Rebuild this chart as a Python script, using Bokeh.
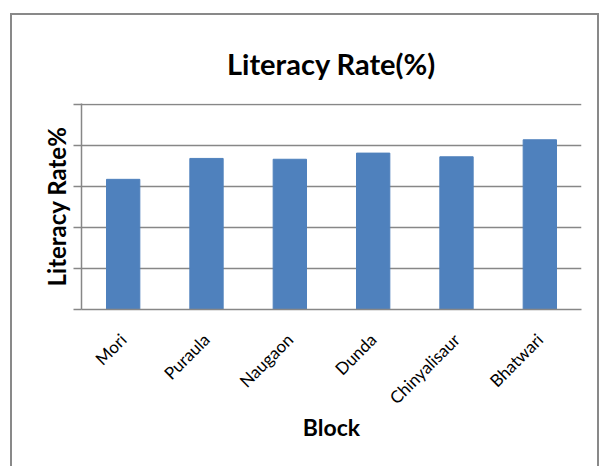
from math import pi
from bokeh.plotting import figure
from bokeh.models import FixedTicker
from bokeh.embed import file_html
from bokeh.resources import INLINE

blocks = ["Mori", "Puraula", "Naugaon", "Dunda", "Chinyalisaur", "Bhatwari"]
literacy = [63.5, 73.7, 73.3, 76.3, 74.5, 82.8]
y_ticks = [0, 20, 40, 60, 80, 100]
chart_title = "Literacy Rate(%)"

FONT = "Lato"
GRID = "#878787"

p = figure(width=589, height=456, x_range=blocks, y_range=(0, 100.5),
           output_backend="svg", toolbar_location=None,
           min_border_left=69, min_border_right=20,
           min_border_top=88, min_border_bottom=162,
           title=chart_title)
p.margin = (13, 0, 0, 10)
p.styles = {"border": "2px solid #898989"}

p.vbar(x=blocks, top=literacy, width=0.4, color="#4F81BD", line_color="#4F81BD")

p.title.align = "center"
p.title.text_font = FONT
p.title.text_font_size = "29px"
p.title.text_font_style = "bold"
p.title.text_color = "#000000"
p.title.standoff = 46

p.outline_line_color = None
p.background_fill_color = "white"
p.border_fill_color = "white"

p.xgrid.grid_line_color = None
p.ygrid.grid_line_color = GRID
p.ygrid.grid_line_width = 1.5
p.yaxis.ticker = FixedTicker(ticks=y_ticks)

p.yaxis.axis_label = "Literacy Rate%"
p.yaxis.axis_label_text_font = FONT
p.yaxis.axis_label_text_font_size = "24px"
p.yaxis.axis_label_text_font_style = "bold"
p.yaxis.axis_label_text_color = "#000000"
p.yaxis.major_label_overrides = {t: "" for t in y_ticks}
p.yaxis.axis_label_standoff = 3
p.yaxis.major_tick_out = 8
p.yaxis.major_tick_in = 0
p.yaxis.minor_tick_line_color = None
p.yaxis.axis_line_color = GRID
p.yaxis.major_tick_line_color = GRID
p.yaxis.axis_line_width = 1.5
p.yaxis.major_tick_line_width = 1.5

p.xaxis.axis_label = "Block"
p.xaxis.axis_label_text_font = FONT
p.xaxis.axis_label_text_font_size = "23px"
p.xaxis.axis_label_text_font_style = "bold"
p.xaxis.axis_label_text_color = "#000000"
p.xaxis.axis_label_standoff = -6
p.xaxis.major_label_orientation = pi / 4
p.xaxis.major_label_standoff = 21
p.xaxis.major_label_text_font = FONT
p.xaxis.major_label_text_font_size = "17px"
p.xaxis.major_label_text_color = "#000000"
p.xaxis.major_tick_line_color = None
p.xaxis.axis_line_color = GRID
p.xaxis.axis_line_width = 1.5

open("out.html", "w").write(file_html(p, INLINE))
